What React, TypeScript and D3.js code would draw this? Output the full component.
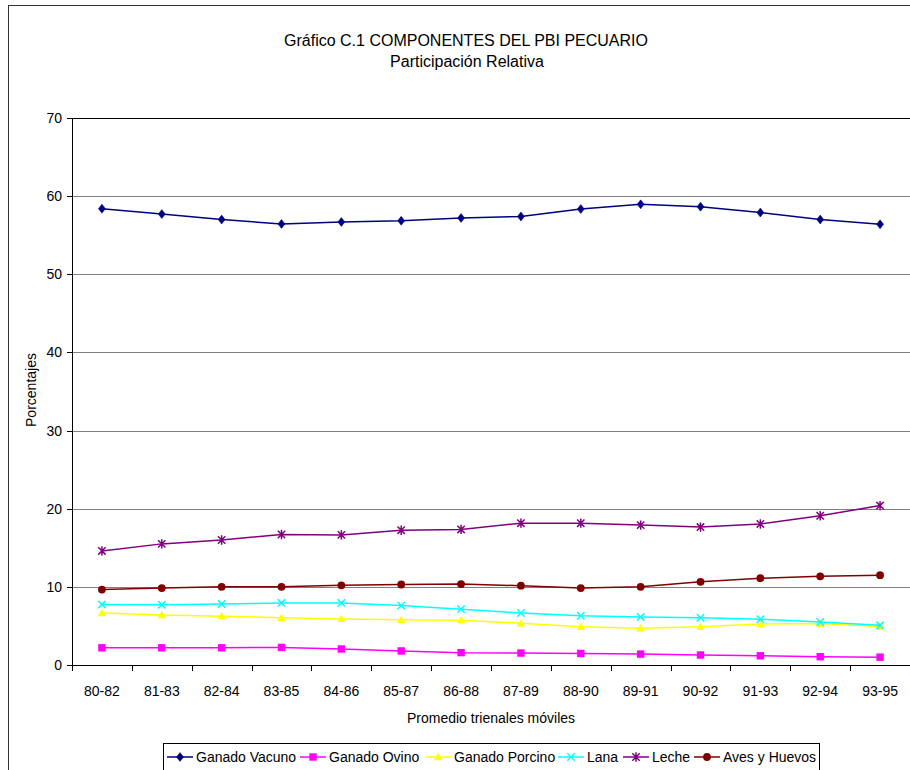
import React from 'react';
import * as d3 from 'd3';

const categories = ['80-82','81-83','82-84','83-85','84-86','85-87','86-88','87-89','88-90','89-91','90-92','91-93','92-94','93-95'];
const vacuno = [58.4, 57.7, 57.0, 56.45, 56.7, 56.85, 57.2, 57.4, 58.35, 58.95, 58.65, 57.9, 57.0, 56.4];
const ovino = [2.2, 2.2, 2.2, 2.25, 2.05, 1.8, 1.58, 1.53, 1.48, 1.4, 1.28, 1.18, 1.06, 1.0];
const porcino = [6.65, 6.4, 6.25, 6.05, 5.9, 5.8, 5.72, 5.35, 4.9, 4.7, 4.9, 5.25, 5.32, 4.92];
const lana = [7.75, 7.7, 7.8, 7.95, 7.95, 7.6, 7.15, 6.65, 6.3, 6.15, 6.05, 5.85, 5.5, 5.08];
const leche = [14.6, 15.5, 16.0, 16.7, 16.65, 17.25, 17.35, 18.15, 18.15, 17.9, 17.65, 18.05, 19.1, 20.4];
const aves = [9.65, 9.85, 10.0, 10.0, 10.2, 10.3, 10.35, 10.15, 9.85, 10.0, 10.65, 11.1, 11.35, 11.5];
const yTicks = [0, 10, 20, 30, 40, 50, 60, 70];

const seriesNames = ['Ganado Vacuno', 'Ganado Ovino', 'Ganado Porcino', 'Lana', 'Leche', 'Aves y Huevos'];
const seriesValues = [vacuno, ovino, porcino, lana, leche, aves];
const seriesColors = ['#000080', '#FF00FF', '#FFFF00', '#00FFFF', '#800080', '#800000'];
const seriesMarkers = ['diamond', 'square', 'triangle', 'x', 'star', 'circle'];

const FONT = '"Liberation Sans", Arial, sans-serif';

function Marker({ type, x, y, color }: { type: string; x: number; y: number; color: string }) {
  switch (type) {
    case 'diamond':
      return <path d={`M${x},${y - 4.5}L${x + 3.5},${y}L${x},${y + 4.5}L${x - 3.5},${y}Z`} fill={color} stroke={color} strokeWidth={0.5} />;
    case 'square':
      return <rect x={x - 3.7} y={y - 3.7} width={7.4} height={7.4} fill={color} />;
    case 'triangle':
      return <path d={`M${x},${y - 4.2}L${x + 4.2},${y + 3.2}L${x - 4.2},${y + 3.2}Z`} fill={color} />;
    case 'x':
      return <path d={`M${x - 3.7},${y - 3.7}L${x + 3.7},${y + 3.7}M${x - 3.7},${y + 3.7}L${x + 3.7},${y - 3.7}`} stroke={color} strokeWidth={1.5} />;
    case 'star':
      return <path d={`M${x - 3.7},${y - 3.7}L${x + 3.7},${y + 3.7}M${x - 3.7},${y + 3.7}L${x + 3.7},${y - 3.7}M${x},${y - 4.7}L${x},${y + 4.7}`} stroke={color} strokeWidth={1.5} />;
    case 'circle':
      return <circle cx={x} cy={y} r={3.9} fill={color} />;
    default:
      return null;
  }
}

export default function App() {
  const left = 72, right = 910, top = 118, bottom = 665;
  const x = d3.scaleBand<string>().domain(categories).range([left, right]);
  const y = d3.scaleLinear().domain([0, 70]).range([bottom, top]);
  const cx = (c: string) => (x(c) as number) + x.bandwidth() / 2;
  const line = d3.line<number>().x((_, i) => cx(categories[i])).y(v => y(v));
  const legendX = [167, 300, 425, 558, 623, 694];
  const legendY = 757;

  return (
    <svg width={910} height={770} style={{ position: 'absolute', left: 0, top: 0, background: '#fff' }} fontFamily={FONT}>
      <rect x={0} y={0} width={910} height={770} fill="#fff" />
      <rect x={8.5} y={5.5} width={1000} height={1000} fill="none" stroke="#333" strokeWidth={1} />
      <text x={466} y={46} textAnchor="middle" fontSize={16} fill="#000">Gráfico C.1 COMPONENTES DEL PBI PECUARIO</text>
      <text x={467} y={67} textAnchor="middle" fontSize={16} fill="#000">Participación Relativa</text>

      {yTicks.filter(t => t > 0).map(t => (
        <line key={t} x1={left} x2={right} y1={Math.round(y(t)) + 0.5} y2={Math.round(y(t)) + 0.5} stroke={t === 70 ? '#000' : '#808080'} strokeWidth={1} />
      ))}
      <line x1={left + 0.5} x2={left + 0.5} y1={top} y2={bottom + 0.5} stroke="#000" strokeWidth={1} />
      <line x1={left} x2={right} y1={bottom + 0.5} y2={bottom + 0.5} stroke="#000" strokeWidth={1} />
      {yTicks.map(t => (
        <g key={t}>
          <line x1={left - 5} x2={left} y1={Math.round(y(t)) + 0.5} y2={Math.round(y(t)) + 0.5} stroke="#000" />
          <text x={62} y={y(t) + 5} textAnchor="end" fontSize={14} fill="#000">{t}</text>
        </g>
      ))}
      {categories.map((c, i) => (
        <g key={c}>
          <line x1={Math.round(x(c) as number) + 0.5} x2={Math.round(x(c) as number) + 0.5} y1={bottom} y2={bottom + 6} stroke="#000" />
          <text x={cx(c)} y={696} textAnchor="middle" fontSize={14} fill="#000">{c}</text>
        </g>
      ))}
      <text x={491} y={723} textAnchor="middle" fontSize={14} fill="#000">Promedio trienales móviles</text>
      <text transform="translate(36,390) rotate(-90)" textAnchor="middle" fontSize={14} fill="#000">Porcentajes</text>

      {seriesValues.map((vals, s) => (
        <g key={seriesNames[s]}>
          <path d={line(vals) as string} fill="none" stroke={seriesColors[s]} strokeWidth={1.5} />
          {vals.map((v, i) => (
            <Marker key={i} type={seriesMarkers[s]} x={cx(categories[i])} y={y(v)} color={seriesColors[s]} />
          ))}
        </g>
      ))}

      <rect x={163.5} y={743.5} width={656} height={40} fill="#fff" stroke="#000" strokeWidth={1} />
      {seriesNames.map((n, s) => (
        <g key={n}>
          <line x1={legendX[s]} x2={legendX[s] + 26} y1={legendY} y2={legendY} stroke={seriesColors[s]} strokeWidth={1.5} />
          <Marker type={seriesMarkers[s]} x={legendX[s] + 13} y={legendY} color={seriesColors[s]} />
          <text x={legendX[s] + 29} y={legendY + 5} fontSize={14} fill="#000">{n}</text>
        </g>
      ))}
    </svg>
  );
}
